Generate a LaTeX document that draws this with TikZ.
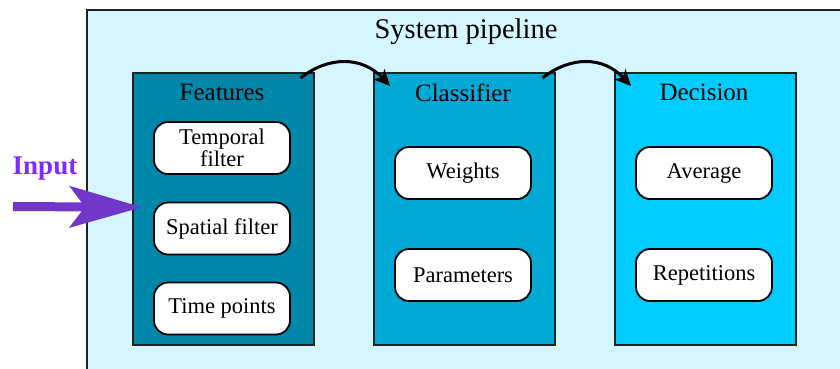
\documentclass[tikz,border=0pt]{standalone}
\usepackage{fontspec}
\setmainfont{Liberation Serif}
\usetikzlibrary{arrows.meta,calc}
\definecolor{outerfill}{HTML}{D5F6FF}
\definecolor{featfill}{HTML}{0088AA}
\definecolor{classfill}{HTML}{00AAD4}
\definecolor{decfill}{HTML}{00CCFF}
\definecolor{inputtxt}{HTML}{7F2AFF}
\definecolor{inputarr}{HTML}{7137C8}
\definecolor{edge}{HTML}{222222}
\tikzset{
  stage/.style={draw=edge, line width=1.5pt, minimum width=181pt, minimum height=272pt, inner sep=0pt},
  pill/.style={draw=black, fill=white, line width=1.8pt, rounded corners=14pt, minimum width=136pt, minimum height=52pt, align=center, font=\fontsize{22.5}{20}\selectfont, inner sep=2pt},
  head/.style={font=\fontsize{25}{25}\selectfont, anchor=base},
  flow/.style={-{Stealth[length=16pt,width=15pt,inset=4pt]}, line width=3pt, black},
}
\begin{document}
\begin{tikzpicture}[x=1pt,y=-1pt]
\useasboundingbox (0,0) rectangle (840,368);
\begin{scope}
\clip (0,0) rectangle (840,368);
\node[draw=edge, fill=outerfill, line width=1.5pt, minimum width=800pt, minimum height=400pt, inner sep=0pt, anchor=north west] (outer) at (86,9) {};
\end{scope}
\node[font=\fontsize{28.5}{28.5}\selectfont, anchor=base] (title) at (466,38) {System pipeline};

\node[stage, fill=featfill, anchor=north west] (feat) at (132,72) {};
\node[stage, fill=classfill, anchor=north west] (cls) at (373,72) {};
\node[stage, fill=decfill, anchor=north west] (dec) at (614,72) {};

\node[head] (featlbl) at (222,100) {Features};
\node[head] (clslbl) at (463,101) {Classifier};
\node[head] (declbl) at (704,100) {Decision};

\node[pill] (temp) at (222,148) {Temporal\\filter};
\node[pill] (spat) at (222,228.5) {Spatial filter};
\node[pill] (time) at (222,308.5) {Time points};

\node[pill] (wts) at (463,173) {Weights};
\node[pill] (par) at (463,275) {Parameters};

\node[pill] (avg) at (704,173) {Average};
\node[pill] (rep) at (704,275) {Repetitions};

\coordinate (a1s) at ($(feat.north east)+(-14,6)$);
\coordinate (a1e) at ($(cls.north west)+(17,14)$);
\coordinate (a2s) at ($(cls.north east)+(-13,6)$);
\coordinate (a2e) at ($(dec.north west)+(17,14)$);
\draw[flow] (a1s) .. controls ($(a1s)+(28,-22)$) and ($(a1e)+(-28,-30)$) .. (a1e);
\draw[flow] (a2s) .. controls ($(a2s)+(28,-22)$) and ($(a2e)+(-28,-30)$) .. (a2e);

\node[font=\bfseries\fontsize{27}{27}\selectfont, text=inputtxt, anchor=base] (inp) at (45,174) {Input};
\coordinate (inS) at (13,206.5);
\coordinate (inE) at ($(feat.west)+(10,-1.5)$);
\draw[inputarr, line width=9pt, -{Stealth[length=72pt,width=41pt,inset=15pt]}] (inS) -- (inE);
\end{tikzpicture}
\end{document}
